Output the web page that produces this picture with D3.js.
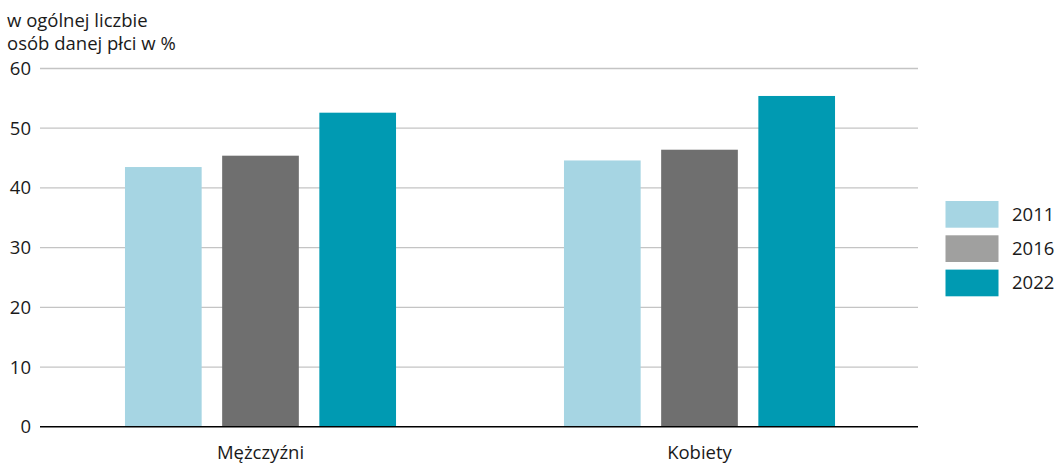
<!DOCTYPE html>
<html><head><meta charset="utf-8">
<script src="https://cdn.jsdelivr.net/npm/d3@7"></script>
<style>body{margin:0;background:#fff;} svg{display:block;} text{font-family:"Open Sans","Noto Sans",sans-serif;fill:#1a1a1a;}</style>
</head><body>
<svg id="c" width="1056" height="463"></svg>
<script>
const categories = ["Mężczyźni", "Kobiety"];
const years = ["2011", "2016", "2022"];
const v2011 = [43.5, 44.6];
const v2016 = [45.4, 46.4];
const v2022 = [52.6, 55.4];
const yTicks = [0, 10, 20, 30, 40, 50, 60];
const titleLines = ["w ogólnej liczbie", "osób danej płci w %"];

(function () {
const series = [v2011, v2016, v2022];
const barColors = ["#a6d5e3", "#6f6f6f", "#009ab2"];
const legendColors = ["#a6d5e3", "#a0a09f", "#009ab2"];

const svg = d3.select("#c");
const pL = 40, pR = 918, pT = 68.5, pB = 426.8;
const fs = 18.5;

const x0 = d3.scaleBand().domain(categories).range([pL + 1, pR + 1]).padding(0);
const x1 = d3.scaleBand().domain(years).range([0, x0.bandwidth()]).paddingInner(0.211).paddingOuter(0.864);
const y = d3.scaleLinear().domain([0, 60]).range([pB, pT]);

svg.append("g").selectAll("line").data(yTicks.filter(d => d !== 0)).join("line")
  .attr("x1", pL).attr("x2", pR)
  .attr("y1", d => y(d)).attr("y2", d => y(d))
  .attr("stroke", "#c4c4c4").attr("stroke-width", 1.3);

svg.append("g").selectAll("text").data(yTicks).join("text")
  .attr("x", 31).attr("y", d => y(d)).attr("dy", "0.35em")
  .attr("text-anchor", "end").attr("font-size", fs).text(d => d);

svg.append("g").selectAll("text").data(titleLines).join("text")
  .attr("x", 7).attr("y", (d, i) => 27 + i * 23).attr("font-size", fs).text(d => d);

categories.forEach((c, ci) => {
  svg.append("g").selectAll("rect").data(years).join("rect")
    .attr("x", yr => x0(c) + x1(yr))
    .attr("width", x1.bandwidth())
    .attr("y", (yr, i) => y(series[i][ci]))
    .attr("height", (yr, i) => pB - y(series[i][ci]))
    .attr("fill", (yr, i) => barColors[i]);
});

svg.append("line").attr("x1", pL).attr("x2", pR).attr("y1", pB).attr("y2", pB)
  .attr("stroke", "#000").attr("stroke-width", 1.6);

svg.append("g").selectAll("text").data(categories).join("text")
  .attr("x", d => x0(d) + x0.bandwidth() / 2).attr("y", 459)
  .attr("text-anchor", "middle").attr("font-size", fs).text(d => d);

const lg = svg.append("g");
years.forEach((yr, i) => {
  const yy = 201 + i * 34.3;
  lg.append("rect").attr("x", 945.5).attr("y", yy).attr("width", 53).attr("height", 26.7).attr("fill", legendColors[i]);
  lg.append("text").attr("x", 1012).attr("y", yy + 13.3).attr("dy", "0.35em").attr("font-size", fs).text(yr);
});
})();
</script>
</body></html>
